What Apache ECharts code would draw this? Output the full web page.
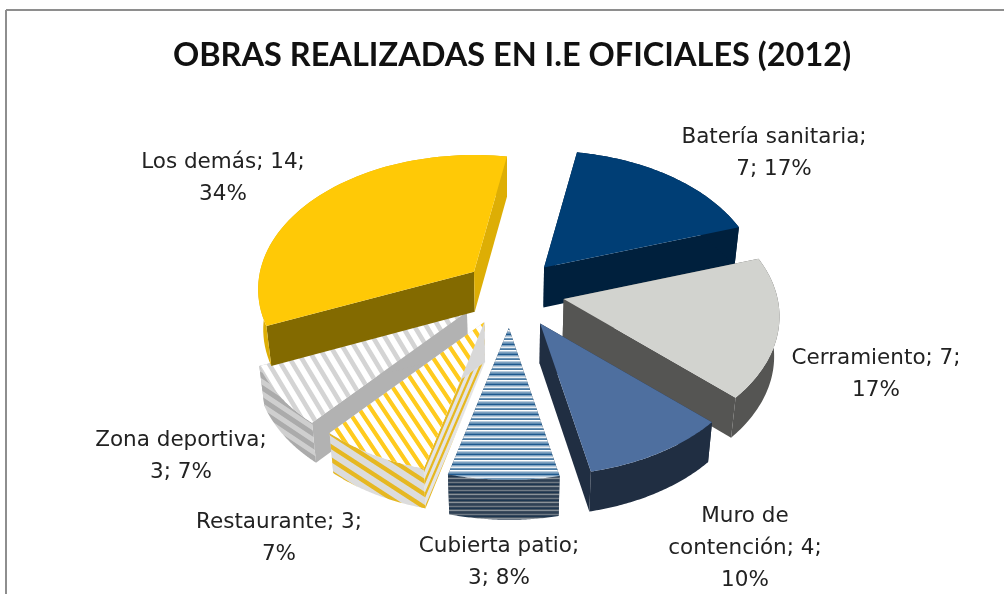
<!DOCTYPE html>
<html><head><meta charset="utf-8">
<style>html,body{margin:0;padding:0;background:#fff}#c{width:1004px;height:594px}</style>
<script src="https://cdn.jsdelivr.net/npm/echarts@6/dist/echarts.min.js"></script>
</head><body><div id="c"></div>
<script>
// --- data ---
const chartTitle = 'OBRAS REALIZADAS EN I.E OFICIALES (2012)';
const categories = ['Batería sanitaria','Cerramiento','Muro de contención','Cubierta patio','Restaurante','Zona deportiva','Los demás'];
const values = [7,7,4,3,3,3,14];
const percents = [17,17,10,8,7,7,34];
// number of words on each label line
const labelWraps = [[2],[2],[2,2],[2],[2],[2],[3]];

// --- layout ---
const labelX = [774,876,745,499,279,181,223];
const labelY = [137,358,516,546,522,440,162];
const labelLine = 32;
const pie = {cx:512, cy:292, a:214, b:132, k:0.13, explode:0.25, depth:40, start:10, converge:0.02};
const apexNudgeX = [-2,-1,1,-2,-2,-1,3];
const apexNudgeY = [0,0,2,2,0,0,0];
const paintOrder = [0,5,6,1,2,4,3];

// --- pattern tiles ---
function hex(c){return [1,3,5].map(i=>parseInt(c.substr(i,2),16));}
function stripes(w,h,dir,ca,cb,duty){
  const cv=document.createElement('canvas');cv.width=w;cv.height=h;
  const g=cv.getContext('2d'),im=g.createImageData(w,h),A=hex(ca),B=hex(cb),n=4;
  for(let y=0;y<h;y++)for(let x=0;x<w;x++){
    let s=0;
    for(let i=0;i<n;i++)for(let j=0;j<n;j++){
      let p=((x+(i+.5)/n)/w+dir*(y+(j+.5)/n)/h)%1; if(p<0)p+=1;
      if(p<duty)s++;
    }
    s/=n*n;
    const o=(y*w+x)*4;
    for(let c=0;c<3;c++)im.data[o+c]=Math.round(A[c]*s+B[c]*(1-s));
    im.data[o+3]=255;
  }
  g.putImageData(im,0,0);
  return {image:cv,repeat:'repeat'};
}
function rows(list){
  const cv=document.createElement('canvas');cv.width=2;cv.height=list.length;
  const g=cv.getContext('2d');
  list.forEach((c,i)=>{g.fillStyle=c;g.fillRect(0,i,2,1);});
  return {image:cv,repeat:'repeat'};
}
const topFill = [
  '#003E75','#D2D3CF','#4E6F9F',
  rows(['#ffffff','#b9cbdb','#7fa3c2','#5f8ab0','#1f5a8f','#7fa3c2','#b9cbdb','#e8eef3','#6f97b9','#4a7aa3']),
  stripes(12,18,-1,'#FFCB1E','#FFFFFF',0.42),
  stripes(12,20,-1,'#D4D4D4','#FFFFFF',0.45),
  '#FFC906'
];
const arcFill = [
  '#00203D','#555553','#202E42',
  rows(['#2e4054','#3c4c5e','#707a84','#34465a','#1d3650','#4a5866','#8a9299','#3a4a5c']),
  stripes(20,13,-1,'#E6B822','#DCDCDC',0.4),
  stripes(18,12,-1,'#ABABAB','#CFCFCF',0.5),
  '#DDAE05'
];
const startWall = [
  '#00203D','#555553','#202E42','#3c4c5e',
  stripes(6,14,1,'#E6B822','#E4E4E4',0.4),
  '#B2B2B2','#836A00'
];
const endWall = ['#00203D','#555553','#202E42','#3c4c5e','#D8D8D8','#B2B2B2','#DDAE05'];
const total = values.reduce((s,v)=>s+v,0);

function vec(deg){
  const t=deg*Math.PI/180,X=Math.sin(t),Y=Math.cos(t),d=1+pie.k*Y;
  return [pie.a*X/d,-pie.b*Y/d];
}
function apexOf(deg,nx,ny){
  const t=deg*Math.PI/180,e=pie.explode,X=Math.sin(t)*e,Y=Math.cos(t)*e,d=1+pie.k*Y;
  return [pie.cx+nx+pie.a*X/d,pie.cy+ny-pie.b*Y/d];
}
function labelText(i){
  const words=(categories[i]+'; '+values[i]+'; '+percents[i]+'%').split(' ');
  const lines=[];let p=0;
  labelWraps[i].forEach(n=>{lines.push(words.slice(p,p+n).join(' '));p+=n;});
  if(p<words.length)lines.push(words.slice(p).join(' '));
  return lines.join('\n');
}
function renderSlice(params,api){
  const i=api.value(0),v=api.value(1);
  let before=0;for(let j=0;j<i;j++)before+=values[j];
  const a0=pie.start+before/total*360,a1=a0+v/total*360,mid=(a0+a1)/2;
  const ap=apexOf(mid,apexNudgeX[i],apexNudgeY[i]),arc=[];
  for(let n=0;n<=60;n++){
    const w=vec(a0+(a1-a0)*n/60);arc.push([ap[0]+w[0],ap[1]+w[1]]);
  }
  const down=p=>[p[0]+(pie.cx-p[0])*pie.converge,p[1]+pie.depth];
  const first=arc[0],last=arc[arc.length-1];
  const z=paintOrder.indexOf(i)*10;
  const poly=(pts,fill,dz)=>({type:'polygon',z2:z+dz,shape:{points:pts},
    style:{fill:fill,stroke:null}});
  const children=[
    poly([ap,first,down(first),down(ap)],startWall[i],0),
    poly([ap,last,down(last),down(ap)],endWall[i],1),
    poly(arc.concat(arc.slice().reverse().map(down)),arcFill[i],2),
    poly([ap].concat(arc),topFill[i],3),
    {type:'text',z2:200,x:labelX[i],y:labelY[i]-labelLine/2,
     style:{text:labelText(i),fill:'#222222',font:'21.5px "DejaVu Sans"',
            align:'center',verticalAlign:'top',lineHeight:labelLine}}
  ];
  return {type:'group',children:children};
}
const chart=echarts.init(document.getElementById('c'),null,{renderer:'canvas'});
chart.setOption({
  animation:false,
  backgroundColor:'#ffffff',
  title:{text:chartTitle,left:507,top:34,textAlign:'center',
    textStyle:{fontFamily:'Lato',fontWeight:'bold',fontSize:32.5,color:'#111111'}},
  graphic:[
    {type:'line',shape:{x1:6,y1:10,x2:1004,y2:10},style:{stroke:'#8E8E8E',lineWidth:2}},
    {type:'line',shape:{x1:6,y1:10,x2:6,y2:594},style:{stroke:'#8E8E8E',lineWidth:2}}
  ],
  series:[{type:'custom',coordinateSystem:'none',renderItem:renderSlice,
    data:values.map((v,i)=>[i,v])}]
});
</script></body></html>
